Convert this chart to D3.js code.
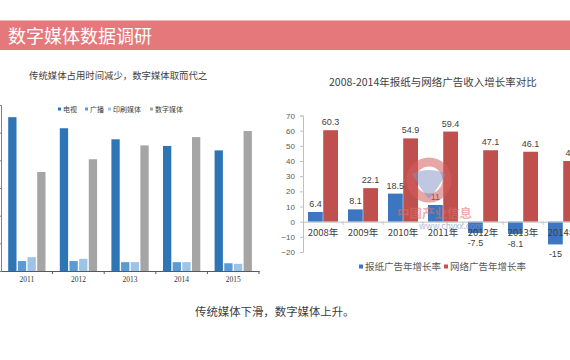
<!DOCTYPE html>
<html><head><meta charset="utf-8">
<script src="https://cdn.jsdelivr.net/npm/d3@7/dist/d3.min.js"></script>
<style>
html,body{margin:0;padding:0;background:#fff;}
svg{display:block;}
text{font-family:"Noto Sans CJK SC","Noto Sans",sans-serif;}
</style></head>
<body>
<script>
// ---------- data ----------
const headerTitle = "数字媒体数据调研";
const leftTitle = "传统媒体占用时间减少，数字媒体取而代之";
const leftYears = ["2011","2012","2013","2014","2015"];
const leftSeries = ["电视","广播","印刷媒体","数字媒体"];
const tvValues = [278,258,238,226,218];
const radioValues = [18,18,16,16,14];
const printValues = [25,22,16,16,13];
const digitalValues = [179,202,227,242,253];
const leftTicks = [0,50,100,150,200,250,300];

const rightTitle = "2008-2014年报纸与网络广告收入增长率对比";
const rightYears = ["2008年","2009年","2010年","2011年","2012年","2013年","2014年"];
const rightSeries = ["报纸广告年增长率","网络广告年增长率"];
const paperGrowth = [6.4,8.1,18.5,11,-7.5,-8.1,-15];
const onlineGrowth = [60.3,22.1,54.9,59.4,47.1,46.1,40];
const rightTicks = [-20,-10,0,10,20,30,40,50,60,70];

const footerText = "传统媒体下滑，数字媒体上升。";

// ---------- svg ----------
const W = 570, H = 360;
const svg = d3.select("body").append("svg").attr("width", W).attr("height", H);

// header bar
svg.append("rect").attr("x",0).attr("y",20).attr("width",W).attr("height",30).attr("fill","#E4787B");
svg.append("rect").attr("x",0).attr("y",20).attr("width",W).attr("height",1).attr("fill","#F0B5B6");
svg.append("text").attr("x",8).attr("y",42.5).attr("fill","#fff").attr("font-size",18)
  .text(headerTitle);

// ---------- left chart ----------
const leftColors = ["#2E75B6","#5B9BD5","#9DC3E6","#A5A5A5"];
svg.append("text").attr("x",29).attr("y",79).attr("font-size",9.4).attr("fill","#404040").text(leftTitle);

const lx0 = d3.scaleBand().domain(leftYears).range([1,259]);
const lx1 = d3.scaleBand().domain(leftSeries).range([7.2,44.5]).paddingInner(0.14);
const ly = d3.scaleLinear().domain([0,300]).range([271,105]);
const leftData = leftYears.map((y,i)=>({year:y, vals:[tvValues[i],radioValues[i],printValues[i],digitalValues[i]]}));

// y axis (labels are off-canvas in the reference)
const lyAxis = svg.append("g").attr("transform","translate(1,0)")
  .call(d3.axisLeft(ly).tickValues(leftTicks).tickSize(3).tickFormat(""));
lyAxis.select(".domain").attr("stroke","#808080");
lyAxis.selectAll(".tick line").attr("stroke","#808080");

const lg = svg.append("g");
leftData.forEach(d=>{
  lg.selectAll(null).data(d.vals).enter().append("rect")
    .attr("x",(v,j)=>lx0(d.year)+lx1(leftSeries[j]))
    .attr("y",v=>ly(v))
    .attr("width",lx1.bandwidth())
    .attr("height",v=>ly(0)-ly(v))
    .attr("fill",(v,j)=>leftColors[j]);
});
const lxAxis = svg.append("g").attr("transform","translate(0,271)")
  .call(d3.axisBottom(lx0).tickSize(0).tickPadding(6));
lxAxis.select(".domain").attr("stroke","#595959");
lxAxis.selectAll("text").attr("font-size",7.5).attr("fill","#333")
  .style("font-family","'Liberation Serif','DejaVu Serif',serif");
svg.append("g").selectAll("line").data(leftYears).enter().append("line")
  .attr("x1",d=>lx0(d)+lx0.bandwidth()).attr("x2",d=>lx0(d)+lx0.bandwidth())
  .attr("y1",271).attr("y2",274).attr("stroke","#595959");

// left legend
const legXs = [58,85,108,150];
const leg = svg.append("g");
leftSeries.forEach((s,i)=>{
  leg.append("rect").attr("x",legXs[i]).attr("y",107.5).attr("width",3).attr("height",3).attr("fill",leftColors[i]);
  leg.append("text").attr("x",legXs[i]+5).attr("y",111.5).attr("font-size",7).attr("fill","#404040").text(s);
});

// ---------- right chart ----------
const rColors = ["#3D76C0","#C0504D"];
svg.append("text").attr("x",329).attr("y",86).attr("font-size",10.5).attr("fill","#404040").text(rightTitle);

const rx0 = d3.scaleBand().domain(rightYears).range([303,583]);
const rx1 = d3.scaleBand().domain(rightSeries).range([5,35]).paddingInner(0.03);
const ry = d3.scaleLinear().domain([-20,70]).range([252,115.5]);

const ryAxis = svg.append("g").attr("transform","translate(303,0)")
  .call(d3.axisLeft(ry).tickValues(rightTicks).tickSize(3).tickPadding(5));
ryAxis.select(".domain").attr("stroke","#BFBFBF");
ryAxis.selectAll(".tick line").attr("stroke","#BFBFBF");
ryAxis.selectAll("text").attr("font-size",8).attr("fill","#595959").style("font-family","'Liberation Sans',Arial,sans-serif");

const rightData = rightYears.map((y,i)=>({year:y, vals:[paperGrowth[i], onlineGrowth[i]]}));
const rg = svg.append("g");
rightData.forEach(d=>{
  rg.selectAll(null).data(d.vals).enter().append("rect")
    .attr("x",(v,j)=>rx0(d.year)+rx1(rightSeries[j]))
    .attr("y",v=>ry(Math.max(0,v)))
    .attr("width",rx1.bandwidth())
    .attr("height",v=>Math.abs(ry(v)-ry(0)))
    .attr("fill",(v,j)=>rColors[j]);
  rg.selectAll(null).data(d.vals).enter().append("text")
    .attr("x",(v,j)=>rx0(d.year)+rx1(rightSeries[j])+rx1.bandwidth()/2)
    .attr("y",v=> v>=0 ? ry(v)-5 : ry(v)+13)
    .attr("text-anchor","middle").attr("font-size",9).attr("fill","#404040")
    .style("font-family","'Liberation Sans',Arial,sans-serif")
    .text(v=>String(v));
});

// zero axis
const rxAxis = svg.append("g").attr("transform",`translate(0,${ry(0)})`)
  .call(d3.axisBottom(rx0).tickSize(0).tickPadding(8));
rxAxis.select(".domain").attr("stroke","#BFBFBF");
rxAxis.selectAll("text").attr("font-size",9.5).attr("fill","#404040");
svg.append("g").selectAll("line").data(rightYears).enter().append("line")
  .attr("x1",d=>rx0(d)+rx0.bandwidth()).attr("x2",d=>rx0(d)+rx0.bandwidth())
  .attr("y1",ry(0)).attr("y2",ry(0)+3).attr("stroke","#BFBFBF");

// watermark (drawn over the bars, semi-transparent)
const wm = svg.append("g").attr("transform","translate(429,180)");
wm.append("circle").attr("r",18).attr("fill","none").attr("stroke","#D45F5F").attr("stroke-width",9).attr("opacity",0.55);
wm.append("path").attr("d","M-17,-6 Q0,-14 17,-6 Q8,10 0,19 Q-8,10 -17,-6 Z").attr("fill","#7F8FC4").attr("opacity",0.5);
svg.append("text").attr("x",397).attr("y",218).attr("font-size",12.5).attr("font-weight","bold").attr("fill","#E06F6C").attr("opacity",0.55).text("中国产业信息");
svg.append("text").attr("x",419).attr("y",229).attr("font-size",8.5).attr("fill","#7C93C8").attr("opacity",0.65).text("www.chyxx.com");

// right legend
const rLegX = [359,444];
rightSeries.forEach((s,i)=>{
  svg.append("rect").attr("x",rLegX[i]).attr("y",264.5).attr("width",4).attr("height",4).attr("fill",rColors[i]);
  svg.append("text").attr("x",rLegX[i]+6).attr("y",270).attr("font-size",9.5).attr("fill","#595959").text(s);
});

// footer
svg.append("text").attr("x",195).attr("y",316).attr("font-size",11.4).attr("fill","#404040").text(footerText);
</script>
</body></html>
